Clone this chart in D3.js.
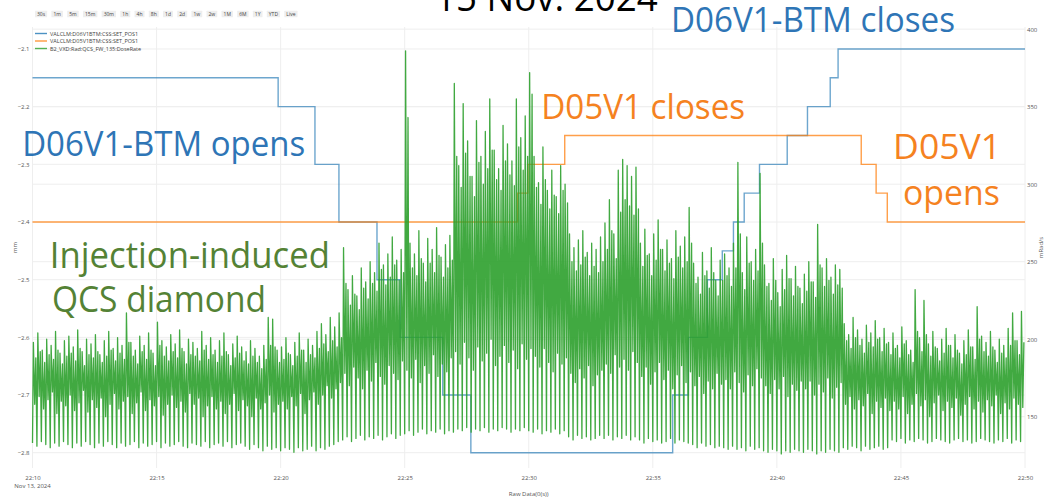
<!DOCTYPE html>
<html><head><meta charset="utf-8">
<script src="https://cdn.jsdelivr.net/npm/d3@7"></script>
<style>body{margin:0;background:#fff}svg{display:block}</style>
</head><body>
<svg id="c" width="1050" height="497"></svg>
<script>
// ---------------- DATA ----------------
const rangeButtons = ["30s","1m","5m","15m","30m","1h","4h","8h","1d","2d","1w","2w","1M","6M","1Y","YTD","Live"];
const legendNames = ["VALCLM:D06V1BTM:CSS:SET_POS1","VALCLM:D05V1BTM:CSS:SET_POS1","B2_VXD:Rad:QCS_FW_135:DoseRate"];
const xTickLabels = ["22:10","22:15","22:20","22:25","22:30","22:35","22:40","22:45","22:50"];
const leftTicks = [-2.8,-2.7,-2.6,-2.5,-2.4,-2.3,-2.2,-2.1];
const rightTicks = [150,200,250,300,350,400];

// D06V1-BTM set position (mm), step changes
const d06Times = ["22:10:00","22:19:54","22:21:23","22:22:21","22:23:53","22:24:49","22:26:32","22:27:40","22:35:48","22:36:26","22:37:12","22:37:48","22:38:15","22:38:41","22:39:18","22:40:25","22:41:14","22:42:09","22:42:28","22:50:00"];
const d06Pos = [-2.15,-2.2,-2.3,-2.4,-2.5,-2.6,-2.7,-2.8,-2.7,-2.6,-2.5,-2.45,-2.4,-2.35,-2.3,-2.25,-2.2,-2.15,-2.1,-2.1];
// D05V1-BTM set position (mm)
const d05Times = ["22:10:00","22:29:33","22:29:58","22:31:27","22:43:24","22:44:00","22:44:27","22:50:00"];
const d05Pos = [-2.4,-2.35,-2.3,-2.25,-2.3,-2.35,-2.4,-2.4];

// QCS dose rate (mRad/s), one entry per injection cycle: trough, peak, shoulder, second high
const doseLo = [
133,131,134,132,130,133,131,134, 132,130,133,131,134,132,130,133, 131,134,132,130,133,131,132,134,
130,133,131,132,134,130,133,131, 132,134,131,130,133,132,131,134, 130,132,133,131,134,130,132,133,
131,129,132,130,128,131,129,130,
128,130,129,127,130,128,129,131,128,130,129,131,132,134,
135,137,134,136,138,135,137,136,138,135,137,139,136,138,
139,141,138,140,142,139,141,140,142,139,141,
140,142,141,143,140,142,141,143,140,142,141,143,142,140,142,141,143,141,
140,142,139,141,140,142,139,141,
137,135,138,136,137,135,136,138,
136,138,135,137,136,138,135,137,
135,133,136,134,135,133,134,136,133,135,134,133,
132,130,133,131,132,130,131,
130,129,131,129,130,128,131,129,130,
128,127,129,128,126,128,127,129,128,
127,129,128,126,128,127,129,128,127,
130,129,131,130,128,131,129,130,131,129,130,
135,134,136,133,135,134,136,135,133,134,136,135,134,133,135,136,134,135,133,134,136,135,134,133,135,134,136,133,135,134];
const doseHi = [
198,204,193,200,196,205,191,199, 202,195,206,192,200,197,203,190, 199,205,194,201,196,217,198,193,
202,196,204,191,211,199,195,203, 197,206,192,200,198,194,205,196, 201,193,199,204,190,197,202,195,
192,199,194,189,196,214,213,193,
195,201,190,198,204,193,200,196,205,210,203,214,208,217,
259,232,241,228,246,237,250,243,262,248,255,266,251,258,
386,262,255,270,249,265,258,272,253,261,267,
365,312,352,328,305,341,318,334,355,322,310,338,326,315,355,330,344,372,
318,301,324,296,309,292,312,300,
268,259,264,270,256,262,258,266,
275,290,268,309,316,312,305,311,
262,271,255,268,277,258,264,252,270,260,266,285,
249,240,256,244,259,238,251,
255,246,262,314,243,266,250,258,307,
248,236,252,230,245,254,239,247,233,
242,250,237,274,246,252,240,248,245,
210,203,214,206,200,209,204,212,201,207,198,
204,196,208,199,193,232,201,225,197,205,194,200,207,196,203,191,199,206,195,221,202,198,205,193,200,196,207,217,199,218];
const doseMid = [
158,163,155,161,166,152,160,157, 164,154,159,167,153,161,156,162, 150,158,165,155,160,163,152,159,
166,154,161,157,163,151,158,164, 156,160,153,165,158,162,150,157, 163,155,160,152,158,165,154,161,
157,150,162,155,159,164,153,158,
160,155,163,157,165,152,161,166,158,164,170,162,168,172,
178,170,182,175,168,180,173,185,176,171,183,178,174,186,
180,175,187,172,183,178,190,176,184,179,188,
192,184,198,188,180,195,186,191,200,183,189,196,185,193,181,197,187,194,
189,182,194,185,179,191,184,188,
178,172,181,175,183,170,177,180,
184,178,190,182,187,180,192,185,
176,182,171,179,185,174,180,168,177,183,172,179,
170,176,165,173,168,178,171,
174,168,179,172,166,177,170,181,175,
170,165,174,168,176,163,171,167,173,
168,173,164,171,166,175,162,169,172,
158,163,155,161,157,165,152,160,156,162,154,
160,155,163,152,158,165,157,161,150,159,164,154,160,156,162,151,158,163,155,160,153,161,157,164,152,159,155,162,158,156];
const doseHi2 = [
188,192,185,190,187,193,184,189, 191,186,194,183,190,188,192,185, 189,193,186,191,187,198,189,184,
192,187,193,183,196,189,186,192, 188,194,184,190,189,186,193,187, 190,185,189,192,183,188,191,186,
184,189,185,181,187,196,195,185,
187,191,183,189,193,185,190,188,194,197,192,199,195,201,
236,222,229,219,233,226,236,231,245,235,240,248,238,243,
343,246,241,252,237,249,243,254,240,246,251,
318,298,320,305,292,314,300,310,322,303,296,315,306,299,324,309,318,358,
298,287,303,284,293,281,296,288,
250,244,248,253,241,247,243,250,
258,270,252,282,290,286,280,284,
247,254,241,251,258,244,249,239,253,246,250,262,
236,229,241,233,243,228,238,
241,234,246,268,232,249,238,244,262,
234,225,238,221,232,239,228,234,223,
231,237,227,248,234,238,229,235,233,
199,194,201,196,191,198,195,200,192,197,190,
194,188,197,190,185,205,192,203,189,195,186,191,196,188,193,184,190,195,187,200,192,189,195,185,191,188,196,199,190,198];

// Slide annotations (time, left-axis value)
const notes = [
  {text:"15 Nov. 2024", t:"22:26:13", v:-2.0341, color:"#000000", size:38, w:223},
  {text:"D06V1-BTM closes", t:"22:35:44", v:-2.0697, color:"#2e75b6", size:35, w:284},
  {text:"D06V1-BTM opens", t:"22:09:35", v:-2.2855, color:"#2e75b6", size:35, w:283},
  {text:"D05V1 closes", t:"22:30:30", v:-2.2214, color:"#f5821f", size:35, w:204},
  {text:"D05V1", t:"22:44:41", v:-2.2907, color:"#f5821f", size:35, w:108},
  {text:"opens", t:"22:45:05", v:-2.3705, color:"#f5821f", size:35, w:97},
  {text:"Injection-induced", t:"22:10:42", v:-2.4797, color:"#548235", size:36, w:280},
  {text:"QCS diamond", t:"22:10:47", v:-2.556, color:"#548235", size:36, w:214}
];

// ---------------- CHART ----------------
const F = "'Open Sans', 'Noto Sans', sans-serif";
const tm = s => { const p = s.split(":").map(Number); return new Date(2024,10,13,p[0],p[1],p[2]||0); };
const svg = d3.select("#c");
const L = 32.5, R = 1025, T = 27, B = 468;
const x = d3.scaleTime().domain([tm("22:10:00"), tm("22:50:00")]).range([L, R]);
const yL = d3.scaleLinear().domain([-2.8265, -2.0619]).range([B, T]);
const yR = d3.scaleLinear().domain([116.9, 401.4]).range([B, T]);
const xTickTimes = xTickLabels.map(s => tm(s + ":00"));

// grid
const grid = svg.append("g").attr("stroke", "#eeeeee").attr("stroke-width", 1);
grid.selectAll(".gx").data(xTickTimes).join("line")
  .attr("x1", d => x(d)).attr("x2", d => x(d)).attr("y1", T).attr("y2", B);
grid.selectAll(".gl").data(leftTicks).join("line")
  .attr("x1", L).attr("x2", R).attr("y1", d => yL(d)).attr("y2", d => yL(d));
grid.selectAll(".gr").data(rightTicks).join("line")
  .attr("x1", L).attr("x2", R).attr("y1", d => yR(d)).attr("y2", d => yR(d));

// axes
function styleAxis(g){ g.select(".domain").remove(); g.attr("font-family", F).attr("font-size", 6).selectAll("text").attr("fill", "#555"); }
svg.append("g").attr("transform", `translate(0,${B})`)
  .call(d3.axisBottom(x).tickValues(xTickTimes).tickFormat(d3.timeFormat("%H:%M")).tickSize(0).tickPadding(8))
  .call(styleAxis);
svg.append("g").attr("transform", `translate(${L},0)`)
  .call(d3.axisLeft(yL).tickValues(leftTicks).tickFormat(d3.format(".1f")).tickSize(0).tickPadding(3))
  .call(styleAxis);
svg.append("g").attr("transform", `translate(${R},0)`)
  .call(d3.axisRight(yR).tickValues(rightTicks).tickFormat(d3.format("d")).tickSize(0).tickPadding(2))
  .call(styleAxis);
svg.append("text").attr("x", x(xTickTimes[0])).attr("y", 487.5).attr("text-anchor", "middle")
  .attr("font-family", F).attr("font-size", 6).attr("fill", "#555").text("Nov 13, 2024");
svg.append("text").attr("x", (L + R) / 2).attr("y", 495.5).attr("text-anchor", "middle")
  .attr("font-family", F).attr("font-size", 6).attr("fill", "#555").text("Raw Data(0(s))");
svg.append("text").attr("transform", `translate(17,${(T + B) / 2}) rotate(-90)`).attr("text-anchor", "middle")
  .attr("font-family", F).attr("font-size", 6).attr("fill", "#555").text("mm");
svg.append("text").attr("transform", `translate(1043,${(T + B) / 2}) rotate(-90)`).attr("text-anchor", "middle")
  .attr("font-family", F).attr("font-size", 6).attr("fill", "#555").text("mRad/s");

// step lines
const stepL = d3.line().x(d => x(d[0])).y(d => yL(d[1])).curve(d3.curveStepAfter);
svg.append("path").datum(d06Times.map((t, i) => [tm(t), d06Pos[i]])).attr("d", stepL)
  .attr("fill", "none").attr("stroke", "#1f77b4").attr("stroke-opacity", 0.65).attr("stroke-width", 1.4);
svg.append("path").datum(d05Times.map((t, i) => [tm(t), d05Pos[i]])).attr("d", stepL)
  .attr("fill", "none").attr("stroke", "#ff7f0e").attr("stroke-opacity", 0.75).attr("stroke-width", 1.4);

// dose rate
const t0 = +tm("22:10:00"), span = +tm("22:50:00") - t0;
const P = span / doseHi.length;
const dose = [];
doseHi.forEach((h, i) => {
  const c = t0 + i * P;
  dose.push([c, doseLo[i]], [c + 0.2 * P, h], [c + 0.5 * P, doseMid[i]], [c + 0.75 * P, doseHi2[i]]);
});
svg.append("path").datum(dose)
  .attr("d", d3.line().x(d => x(new Date(d[0]))).y(d => yR(d[1])))
  .attr("fill", "none").attr("stroke", "#2ca02c").attr("stroke-opacity", 0.9)
  .attr("stroke-width", 1.3).attr("stroke-linejoin", "round");

// range buttons
const bg = svg.append("g").attr("font-family", F).attr("font-size", 5);
let bx = 35;
rangeButtons.forEach(lbl => {
  const g = bg.append("g");
  const r = g.append("rect").attr("y", 10.7).attr("height", 6.6).attr("fill", "#eeeeee").attr("rx", 0.5);
  const tx = g.append("text").attr("y", 15.6).attr("fill", "#444").text(lbl);
  const w = tx.node().getComputedTextLength() + 4;
  r.attr("x", bx).attr("width", w);
  tx.attr("x", bx + 2);
  bx += w + 4.3;
});

// legend
const legColors = ["#1f77b4", "#ff7f0e", "#2ca02c"];
const legY = [33.5, 41, 48.5];
const lg = svg.append("g").attr("font-family", F).attr("font-size", 5.5);
legendNames.forEach((n, i) => {
  lg.append("line").attr("x1", 35).attr("x2", 47).attr("y1", legY[i]).attr("y2", legY[i])
    .attr("stroke", legColors[i]).attr("stroke-width", 1.4).attr("stroke-opacity", 0.8);
  lg.append("text").attr("x", 50).attr("y", legY[i] + 2).attr("fill", "#444").text(n);
});

// annotations
const ag = svg.append("g").attr("font-family", F);
notes.forEach(n => {
  ag.append("text").attr("x", x(tm(n.t))).attr("y", yL(n.v))
    .attr("font-size", n.size).attr("fill", n.color)
    .attr("textLength", n.w).attr("lengthAdjust", "spacingAndGlyphs").text(n.text);
});
</script>
</body></html>
